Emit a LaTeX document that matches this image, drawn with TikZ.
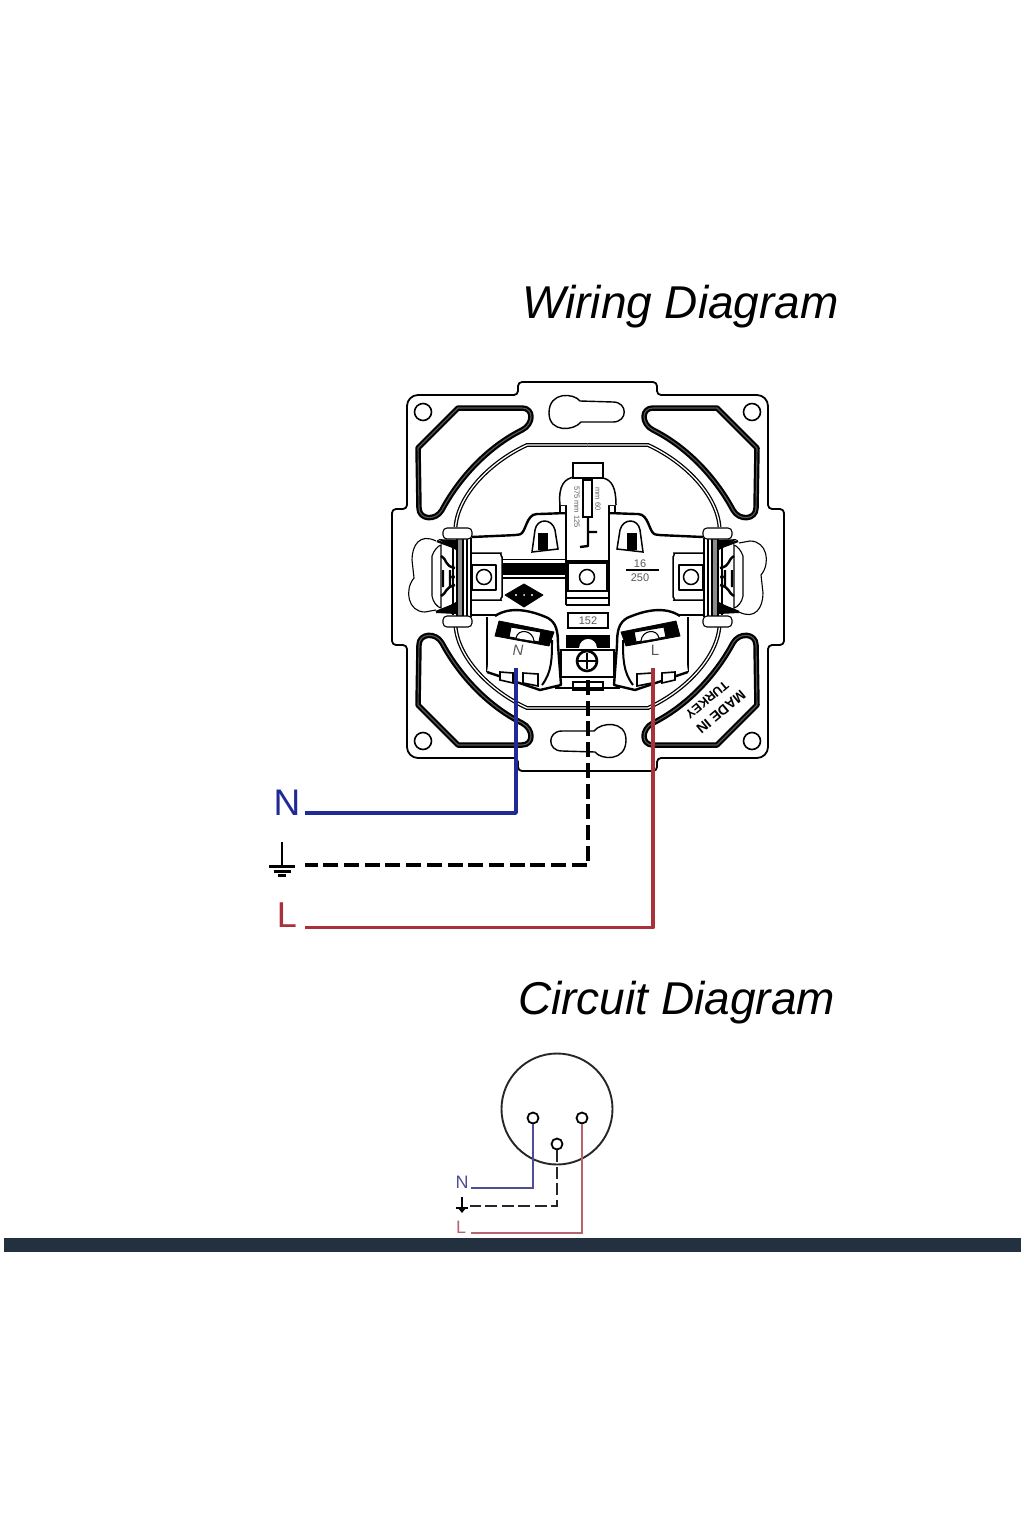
\documentclass[tikz,border=0pt]{standalone}
\usepackage{fontspec}
\setmainfont{Liberation Sans}
\usepackage{tikz}
\usetikzlibrary{calc}
\definecolor{neutralblue}{RGB}{32,42,150}
\definecolor{livered}{RGB}{170,48,58}
\definecolor{barblue}{RGB}{34,48,63}
\definecolor{softblue}{RGB}{78,78,150}
\definecolor{softred}{RGB}{184,100,110}
\tikzset{plate/.style={draw,line width=1.8pt,line join=round},thn/.style={draw,line width=1.1pt},frm/.style={draw,line width=2.2pt,double=black!65,double distance=1.1pt,line join=round},ringarc/.style={draw,line width=1.3pt,double=white,double distance=1.3pt},hvy/.style={draw,line width=2.4pt,line join=round},blk/.style={fill=black,draw,line width=.8pt,line join=round}}
\tikzset{title/.style={font=\fontsize{46}{50}\selectfont\itshape,anchor=base west,inner sep=0pt},tiny/.style={inner sep=0pt,text=black!65},wirelab/.style={inner sep=0pt,font=\fontsize{37}{40}\selectfont},pin/.style={circle,draw,line width=1.8pt,fill=white,inner sep=0pt,minimum size=11pt}}
\tikzset{nwire/.style={draw=neutralblue,line width=3.4pt,line join=round},lwire/.style={draw=livered,line width=3.2pt,line join=round},ewire/.style={draw=black,line width=3.4pt,dash pattern=on 15pt off 5.7pt,line join=round},cn/.style={draw=softblue,line width=2pt},cl/.style={draw=softred,line width=2pt},ce/.style={draw=black!85,line width=2pt,dash pattern=on 12pt off 4.5pt}}
\begin{document}
\begin{tikzpicture}[x=1pt,y=-1pt]
  \useasboundingbox (0,0) rectangle (1024,1536);
  \fill[white] (0,0) rectangle (1024,1536);
  \node[title] (wiringtitle) at (522,318) {Wiring Diagram};
  \node[title] (circuittitle) at (518,1014) {Circuit Diagram};
  % plate outline
  \draw[plate,rounded corners=4pt] (470,395) -- (518,395) -- (518,382) -- (657,382) -- (657,395) -- (753,395)
    .. controls (763,395) and (768,400) .. (768,410) -- (768,509) -- (784,509) -- (784,645) -- (768,645) -- (768,743)
    .. controls (768,753) and (763,758) .. (753,758) -- (657,758) -- (657,771) -- (518,771) -- (518,758) -- (422,758)
    .. controls (412,758) and (407,753) .. (407,743) -- (407,645) -- (392,645) -- (392,509) -- (407,509) -- (407,410)
    .. controls (407,400) and (412,395) .. (422,395) -- cycle;
  % the four quarters
  \foreach \sx/\ox in {1/0,-1/1175}{
  \foreach \sy/\oy in {1/0,-1/1153}{
    \begin{scope}[shift={(\ox,\oy)},xscale=\sx,yscale=\sy]
      \draw[frm] (458,408) -- (522,408) .. controls (534,408) and (534,424) .. (522,430)
        .. controls (486,448) and (458,480) .. (442,510) .. controls (436,521) and (419,520) .. (419,508) -- (418,448) -- cycle;
      \draw[line width=1.6pt] (423,412) circle (8.5);
      \draw[ringarc] (455.5,527) .. controls (458,495) and (490,462) .. (527,445) -- (587.5,445);
    \end{scope}}}
  % keyholes and side lobes
  \foreach \sg/\ox/\oy in {1/0/0,-1/1175/1153}{
    \begin{scope}[shift={(\ox,\oy)},xscale=\sg,yscale=\sg]
      \draw[thn,line width=1.4pt] (580,401) .. controls (574,393) and (549,391) .. (549,413) .. controls (549,433) and (574,431) .. (581,422)
        -- (613,422) .. controls (628,422) and (628,402) .. (613,402) -- cycle;
      \draw[thn] (436,541) .. controls (420,533) and (412,545) .. (412,560) -- (414,578)
        .. controls (404,590) and (408,612) .. (425,612) -- (436,610);
    \end{scope}}
  % terminals, left one and its mirror
  \foreach \sx/\ox in {1/0,-1/1175}{
    \begin{scope}[shift={(\ox,0)},xscale=\sx]
      \draw[hvy,rounded corners=3pt] (472,537) -- (517,535) .. controls (526,533) and (526,514) .. (540,514) -- (566,513);
      \draw[hvy] (472,615) -- (497,615);
      % side clip
      \draw[thn,fill=white] (432,556) .. controls (434,550) and (438,546) .. (441,545) -- (441,608) .. controls (437,607) and (433,602) .. (432,596) -- cycle;
      \draw[hvy] (437,541) -- (456,548) (436,612) -- (456,604) (441,556) .. controls (448,560) and (444,566) .. (455,568) (441,596) .. controls (448,592) and (444,588) .. (455,585) (443,570) -- (443,587) (450,570) -- (450,587);
      \fill (438,539) -- (456,540) -- (456,550) -- cycle (436,613) -- (456,614) -- (456,602) -- cycle;
      \draw[thn,fill=black!45] (457,538) rectangle (463,617);
      \draw[thn] (453,540) -- (453,615) (467,538) -- (467,617) (471,538) -- (471,617);
      \fill (453,577) circle (2);
      \draw[thn,fill=white,rounded corners=4pt] (443,528) rectangle (472,539);
      \draw[thn,fill=white,rounded corners=4pt] (443,616) rectangle (472,627);
      % screw block
      \draw[thn,line width=1.5pt,rounded corners=7pt] (472,553) -- (494,553) .. controls (500,553) and (502,558) .. (502,564) -- (502,590) .. controls (502,596) and (500,600) .. (494,600) -- (472,600);
      \draw[hvy] (472,565) rectangle (496,590);
      \draw[line width=1.5pt] (484,577) circle (7.5);
      % contact body
      \draw[thn] (487,617) -- (487,672);
      \draw[hvy,fill=white] (495,616) .. controls (510,606) and (530,610) .. (548,618) .. controls (556,623) and (558,630) .. (558,645) -- (561,685) -- (540,690) -- (487,672);
      \draw[line width=2pt] (552,640) .. controls (552,658) and (552,672) .. (542,685);
      \draw[blk] (499,621) -- (554,632) -- (549,646) -- (495,636) -- cycle;
      \draw[thn,fill=white] (511,627) -- (541,632) -- (539,642) -- (509,637) -- cycle;
      \draw[thn,fill=white] (516,638) .. controls (518,628) and (533,630) .. (534,641);
      \draw[thn,line width=1.6pt,fill=white] (500,672) -- (500,680) -- (513,683) -- (513,673) -- cycle;
      \draw[thn,line width=1.6pt,fill=white] (523,673) -- (523,683) -- (538,686) -- (538,674) -- cycle;
      % arch window
      \draw[thn,line width=1.5pt] (532,552) -- (535,530) .. controls (537,518) and (552,518) .. (555,530) -- (558,549) -- cycle;
      \fill (538,533) rectangle (548,550);
      % centre column
      \draw[thn,line width=1.4pt] (566,513) -- (566,605);
      \draw[hvy,fill=white] (560,505) rectangle (566,513);
    \end{scope}}
  % printing strip and earth contact
  \draw[thn,line width=1.5pt,fill=white] (560,505) .. controls (558,485) and (565,478) .. (575,477) -- (603,478) .. controls (612,480) and (616,488) .. (616,505);
  \draw[thn,line width=1.5pt,fill=white] (573,463) rectangle (603,478);
  \draw[line width=1.5pt] (583,480) rectangle (592,517);
  \draw[hvy] (588,518) -- (588,546) -- (580,547) (588,532) -- (597,532);
  \node[tiny,rotate=-90,font=\fontsize{7.5}{8}\selectfont] (striptxtl) at (577,507) {575 mm 125};
  \node[tiny,rotate=-90,font=\fontsize{7.5}{8}\selectfont] (striptxtr) at (598,499) {mm 60};
  % brand bar, logo, rating
  \fill (502,563) rectangle (566,575);
  \draw[thn] (502,559.5) -- (566,559.5) (502,578) -- (566,578);
  \draw[blk] (505,595) -- (524,584) -- (543,595) -- (524,607) -- cycle;
  \fill[white] (516,595) circle (1.2) (532,595) circle (1.2) (524,595) circle (1);
  \draw[hvy] (566,561) -- (610,561);
  \draw[thn,line width=1.5pt] (568,563) rectangle (607,591);
  \draw[line width=1.5pt] (587,577) circle (7.5);
  \draw[hvy] (566,598) -- (610,598) (566,605) -- (610,605);
  \node[tiny,font=\fontsize{11}{12}\selectfont] (ratingtop) at (640,564) {16};
  \draw[thn] (626,570) -- (659,570);
  \node[tiny,font=\fontsize{11}{12}\selectfont] (ratingbot) at (640,578) {250};
  \draw[thn,line width=1.5pt] (568,613) rectangle (608,628);
  \node[tiny,font=\fontsize{11}{12}\selectfont] (boxtxt) at (588,621) {152};
  % earth screw
  \fill (566,635) rectangle (610,648);
  \fill[white] (579,648) .. controls (580,636) and (596,636) .. (597,648) -- cycle;
  \draw[thn,line width=1.5pt,fill=white] (561,650) rectangle (614,677);
  \draw[line width=2.6pt] (587,661) circle (10);
  \draw[line width=1.6pt] (578,661) -- (596,661) (587,653) -- (587,669);
  \draw[thn,line width=1.5pt] (573,682) rectangle (603,690);
  \draw[thn] (561,677) -- (614,677) (555,688) -- (620,688);
  \node[tiny,font=\fontsize{15}{16}\selectfont\itshape] (ntxt) at (518,650) {N};
  \node[tiny,font=\fontsize{15}{16}\selectfont] (ltxt) at (655,650) {L};
  \node[inner sep=0pt,rotate=220,font=\fontsize{14}{15}\selectfont\bfseries] (madetxt) at (721,712) {MADE IN};
  \node[inner sep=0pt,rotate=220,font=\fontsize{12.6}{14}\selectfont\bfseries] (turkeytxt) at (707,700) {TURKEY};
  % wiring
  \node[wirelab,text=neutralblue] (labn) at (287,803) {N};
  \node[wirelab,text=livered,font=\fontsize{36}{40}\selectfont] (labl) at (287,915) {L};
  \coordinate (ntop) at (516,668);
  \coordinate (ltop) at (653,668);
  \coordinate (etop) at (588,680);
  \coordinate (nend) at (305,813);
  \coordinate (eend) at (305,865);
  \coordinate (lend) at (305,927.5);
  \draw[ewire] (etop) |- (eend);
  \draw[nwire] (ntop) |- (nend);
  \draw[lwire] (ltop) |- (lend);
  \coordinate (gt) at (282,842);
  \coordinate (gb) at (282,866);
  \draw[line width=2.2pt] (gt) -- (gb);
  \draw[line width=3pt] ($(gb)+(-13,0)$) -- ($(gb)+(13,0)$) ($(gb)+(-8.5,5)$) -- ($(gb)+(8.5,5)$);
  \draw[line width=3pt] ($(gb)+(-4,9)$) -- ($(gb)+(4,9)$);
  % circuit
  \node[circle,draw=black!85,line width=1.9pt,minimum size=111pt,inner sep=0pt] (face) at (557,1109) {};
  \node[pin] (pinn) at (533,1118) {};
  \node[pin] (pine) at (557,1144) {};
  \node[pin] (pinl) at (582,1118) {};
  \node[inner sep=0pt,text=softblue,font=\fontsize{18}{20}\selectfont] (cirn) at (462,1182) {N};
  \node[inner sep=0pt,text=softred,font=\fontsize{18}{20}\selectfont] (cirl) at (461,1227) {L};
  \coordinate (cnend) at (471,1188);
  \coordinate (ceend) at (470,1206);
  \coordinate (clend) at (471,1232.5);
  \draw[cn] (pinn) |- (cnend);
  \draw[ce] (pine) |- (ceend);
  \draw[cl] (pinl) |- (clend);
  \coordinate (cgt) at (462,1197);
  \coordinate (cgb) at (462,1208);
  \draw[line width=1.6pt] (cgt) -- (cgb) ($(cgb)+(-6,0)$) -- ($(cgb)+(6,0)$);
  \fill ($(cgb)+(-4,0)$) -- ($(cgb)+(4,0)$) -- ($(cgb)+(0,5)$) -- cycle;
  % bar
  \fill[barblue] (3.5,1238) rectangle (1021,1252);
\end{tikzpicture}
\end{document}
